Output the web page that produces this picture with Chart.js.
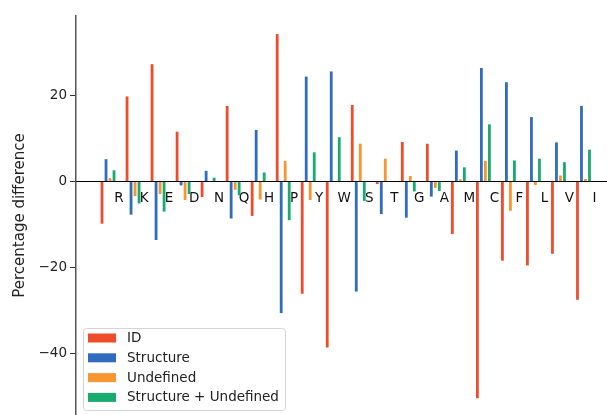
<!DOCTYPE html>
<html>
<head>
<meta charset="utf-8">
<script src="https://cdn.jsdelivr.net/npm/chart.js@4"></script>
<style>
  html, body { margin: 0; padding: 0; background: #fff; }
  #wrap { width: 607px; height: 415px; position: relative; }
</style>
</head>
<body>
<div id="wrap"><canvas id="chart"></canvas></div>
<script>
// ─── data ────────────────────────────────────────────────────────────────
const categories = ['R', 'K', 'E', 'D', 'N', 'Q', 'H', 'P', 'Y', 'W', 'S', 'T', 'G', 'A', 'M', 'C', 'F', 'L', 'V', 'I'];

const idValues        = [-9.8, 19.8, 27.3, 11.6, -3.6, 17.6, -8.0, 34.3, -26.1, -38.6, 17.8, -0.6, 9.2, 8.8, -12.2, -50.4, -18.4, -19.5, -16.8, -27.5];
const structureValues = [5.2, -7.7, -13.6, -0.9, 2.5, -8.6, 12.0, -30.6, 24.4, 25.6, -25.6, -7.6, -8.4, -3.5, 7.2, 26.4, 23.1, 15.0, 9.1, 17.6];
const undefinedValues = [0.8, -3.4, -2.9, -4.3, 0.1, -1.9, -4.2, 4.8, -4.3, 0.1, 8.8, 5.3, 1.3, -1.5, 0.5, 4.8, -6.8, -0.8, 1.4, 0.6];
const bothValues      = [2.6, -5.1, -7.0, -2.9, 0.9, -3.2, 2.1, -9.0, 6.8, 10.3, -4.5, 0.1, -2.3, -2.2, 3.3, 13.3, 4.9, 5.3, 4.5, 7.4];

const yTicks = [-40, -20, 0, 20];

const FONT = "'DejaVu Sans', sans-serif";

function toPoints(vals) {
  return vals.map(function(v, i) { return { x: i, y: v }; });
}

// ─── legend drawn inside the plot, lower left ────────────────────────────
const boxLegend = {
  id: 'boxLegend',
  afterDraw: function(chart) {
    const ctx = chart.ctx;
    const x0 = 83, y0 = 328, w = 202, h = 82;
    ctx.save();
    ctx.beginPath();
    ctx.roundRect(x0 + 0.5, y0 + 0.5, w, h, 3);
    ctx.fillStyle = 'rgba(255,255,255,0.8)';
    ctx.fill();
    ctx.strokeStyle = '#d4d4d4';
    ctx.lineWidth = 1;
    ctx.stroke();
    ctx.font = '13.5px ' + FONT;
    ctx.textBaseline = 'middle';
    chart.data.datasets.forEach(function(ds, i) {
      const cy = y0 + 10 + i * 19.8;
      ctx.fillStyle = ds.backgroundColor;
      ctx.fillRect(88, cy - 4.5, 28, 9);
      ctx.fillStyle = '#222';
      ctx.fillText(ds.label, 127, cy + 0.5);
    });
    ctx.restore();
  }
};

new Chart(document.getElementById('chart'), {
  type: 'bar',
  data: {
    datasets: [
      { label: 'ID', data: toPoints(idValues), backgroundColor: '#ef4c2c' },
      { label: 'Structure', data: toPoints(structureValues), backgroundColor: '#2f6cc0' },
      { label: 'Undefined', data: toPoints(undefinedValues), backgroundColor: '#f7952f' },
      { label: 'Structure + Undefined', data: toPoints(bothValues), backgroundColor: '#17ab6d' },
    ],
  },
  options: {
    responsive: true,
    maintainAspectRatio: false,
    animation: false,
    layout: { padding: { top: 16, right: 0, bottom: 0, left: 0 } },
    categoryPercentage: 0.64,
    barPercentage: 0.7,
    plugins: {
      legend: { display: false },
      tooltip: { enabled: false },
    },
    scales: {
      x: {
        type: 'linear',
        offset: false,
        position: { y: 0 },
        min: -1.28,
        max: 19.94,
        grid: { display: false, drawTicks: false, offset: false },
        border: { display: true, color: '#000', width: 1 },
        afterBuildTicks: function(scale) {
          scale.ticks = categories.map(function(c, i) { return { value: i }; });
        },
        afterFit: function(scale) { scale.paddingLeft = 0; scale.paddingRight = 0; },
        ticks: {
          autoSkip: false,
          maxRotation: 0,
          labelOffset: 11,
          padding: 9,
          color: '#111',
          font: { family: FONT, size: 13.5 },
          callback: function(value) { return categories[value]; },
        },
      },
      y: {
        min: -54.3,
        max: 38.5,
        afterFit: function(scale) {
          scale.width = 76;
          scale.paddingTop = 0;
          scale.paddingBottom = 0;
        },
        afterBuildTicks: function(scale) {
          scale.ticks = yTicks.map(function(v) { return { value: v }; });
        },
        grid: { drawOnChartArea: false, drawTicks: true, tickLength: 6, color: '#333' },
        border: { display: true, color: '#555', width: 1.5 },
        ticks: {
          padding: 3,
          color: '#222',
          font: { family: FONT, size: 13.5 },
          callback: function(value) { return value < 0 ? '\u2212' + Math.abs(value) : String(value); },
        },
        title: {
          display: true,
          text: 'Percentage difference',
          color: '#222',
          font: { family: FONT, size: 15 },
          padding: { top: 11, bottom: 0 },
        },
      },
    },
  },
  plugins: [boxLegend],
});
</script>
</body>
</html>
